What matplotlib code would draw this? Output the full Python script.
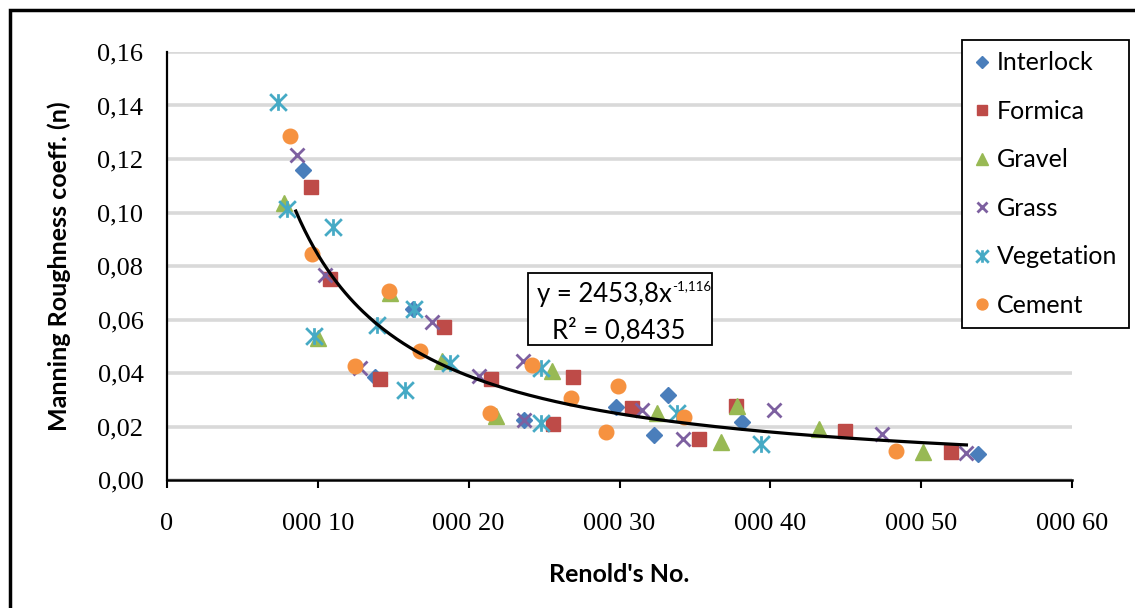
import numpy as np
import matplotlib
matplotlib.use("Agg")
from matplotlib import pyplot as plt
from matplotlib.path import Path
from matplotlib.patches import Rectangle
from matplotlib.text import Annotation

# Reynolds number vs Manning roughness
interlock_x = [9000, 13800, 16300, 23700, 29800, 32300, 33200, 38100, 53800]
interlock_y = [0.1159, 0.0386, 0.0639, 0.0224, 0.0274, 0.0168, 0.0317, 0.0217, 0.0098]

formica_x = [9540, 10800, 14100, 18340, 21500, 25600, 26900, 30800, 35300, 37750, 44950, 52000]
formica_y = [0.1096, 0.0751, 0.0377, 0.0572, 0.0377, 0.0210, 0.0386, 0.0268, 0.0152, 0.0277, 0.0184, 0.0104]

gravel_x = [7750, 10000, 14800, 18200, 21800, 25500, 32500, 36700, 37800, 43200, 50100]
gravel_y = [0.1035, 0.0530, 0.0700, 0.0444, 0.0240, 0.0408, 0.0250, 0.0143, 0.0277, 0.0190, 0.0104]

grass_x = [8590, 10460, 12800, 17600, 20700, 23600, 23650, 31500, 34200, 40260, 47400, 53000]
grass_y = [0.1215, 0.0766, 0.0420, 0.0590, 0.0389, 0.0444, 0.0224, 0.0260, 0.0153, 0.0260, 0.0172, 0.0100]

vegetation_x = [7350, 7950, 9740, 11000, 13900, 15760, 16400, 18750, 24800, 24800, 33800, 39400]
vegetation_y = [0.1413, 0.1013, 0.0540, 0.0946, 0.0580, 0.0336, 0.0639, 0.0437, 0.0420, 0.0213, 0.0250, 0.0134]

cement_x = [8150, 9600, 12450, 14700, 16750, 21400, 24200, 26800, 29100, 29900, 34300, 48350]
cement_y = [0.1286, 0.0845, 0.0426, 0.0707, 0.0483, 0.0250, 0.0430, 0.0306, 0.0180, 0.0350, 0.0236, 0.0109]

# power trendline as printed on the chart
trend_a = 2453.8
trend_b = -1.116
trend_x0, trend_x1 = 8540, 53000

x_ticks = [0, 10000, 20000, 30000, 40000, 50000, 60000]
x_ticklabels = ["0", "000 10", "000 20", "000 30", "000 40", "000 50", "000 60"]
y_ticks = [0.0, 0.02, 0.04, 0.06, 0.08, 0.10, 0.12, 0.14, 0.16]

sans = "Lato"
serif = "Liberation Serif"
W, H = 1135, 608


def fx(px):
    return px / W


def fy(py):
    return 1 - py / H


star = Path([(-1, -1), (1, 1), (-1, 1), (1, -1), (0, -1), (0, 1)],
            [Path.MOVETO, Path.LINETO, Path.MOVETO, Path.LINETO, Path.MOVETO, Path.LINETO])

fig = plt.figure(figsize=(W / 100, H / 100), dpi=100)
ax = fig.add_axes([fx(167), fy(480), fx(1072 - 167), (480 - 52) / H])

ax.plot(interlock_x, interlock_y, ls="none", marker="D", ms=8.5, color="#4a7ebb", label="Interlock", zorder=3)
ax.plot(formica_x, formica_y, ls="none", marker="s", ms=10, color="#be4b48", label="Formica", zorder=3)
ax.plot(gravel_x, gravel_y, ls="none", marker="^", ms=11, color="#98b954", label="Gravel", zorder=3)
ax.plot(grass_x, grass_y, ls="none", marker="x", ms=10, mew=2, color="#7d60a0", label="Grass", zorder=3)
ax.plot(vegetation_x, vegetation_y, ls="none", marker=star, ms=12, mew=2, color="#46aac5", label="Vegetation", zorder=3)
ax.plot(cement_x, cement_y, ls="none", marker="o", ms=10.5, color="#f69240", label="Cement", zorder=3)

tx = np.linspace(trend_x0, trend_x1, 300)
ax.plot(tx, trend_a * tx ** trend_b, color="black", lw=2.3, zorder=4)

ax.set_xlim(0, 60000)
ax.set_ylim(0, 0.16)
ax.set_xticks(x_ticks)
ax.set_xticklabels(x_ticklabels)
ax.set_yticks(y_ticks)
ax.set_yticklabels([f"{v:.2f}".replace(".", ",") for v in y_ticks])
for lab in ax.get_xticklabels() + ax.get_yticklabels():
    lab.set_family(serif)
    lab.set_fontsize(19)
ax.tick_params(axis="x", length=6, width=1.5, direction="out", pad=18)
ax.tick_params(axis="y", length=0, pad=17)

ax.grid(axis="y", color="#d9d9d9", lw=2.6, zorder=0)
ax.set_axisbelow(True)
for s in ["top", "right"]:
    ax.spines[s].set_visible(False)
ax.spines["left"].set_linewidth(1.6)
ax.spines["bottom"].set_linewidth(1.8)

ax.set_xlabel("Renold's No.", fontsize=18, fontweight="bold", family=sans, labelpad=20)
ax.set_ylabel("Manning Roughness coeff. (n)", fontsize=18, fontweight="bold", family=sans, labelpad=19)

leg = ax.legend(loc="upper left", bbox_to_anchor=(fx(962), fy(40)), bbox_transform=fig.transFigure,
                borderaxespad=0, frameon=True, fancybox=False, edgecolor="black", framealpha=1,
                prop={"family": sans, "size": 18}, markerscale=0.75, handlelength=0.7,
                handletextpad=0.25, labelspacing=1.02, borderpad=0.45)
leg.get_frame().set_linewidth(1.3)
leg.set_zorder(6)

# trendline label box
fig.patches.append(Rectangle((fx(528), fy(345)), fx(712 - 528), (345 - 273) / H, transform=fig.transFigure,
                             fc="white", ec="black", lw=1.3, zorder=2))
eq = fig.text(fx(537), fy(302), "y = 2453,8x", fontsize=18.5, family=sans, va="baseline", zorder=3)
sup = Annotation("-1,116", xy=(1, 1), xycoords=eq, xytext=(0.5, 1.5), textcoords="offset points",
                 fontsize=9.5, family=sans, va="top", ha="left", annotation_clip=False)
sup.set_zorder(3)
fig.add_artist(sup)
fig.text(fx(619), fy(338), "R² = 0,8435", fontsize=18.5, family=sans, va="baseline", ha="center", zorder=3)

# outer chart border (only the left and top edges show in the crop)
fig.patches.append(Rectangle((fx(10), -0.1), 1.2, 1 - 10 / H + 0.1, transform=fig.transFigure,
                             fill=False, ec="black", lw=2.5))

fig.savefig("out.png", dpi=100)
